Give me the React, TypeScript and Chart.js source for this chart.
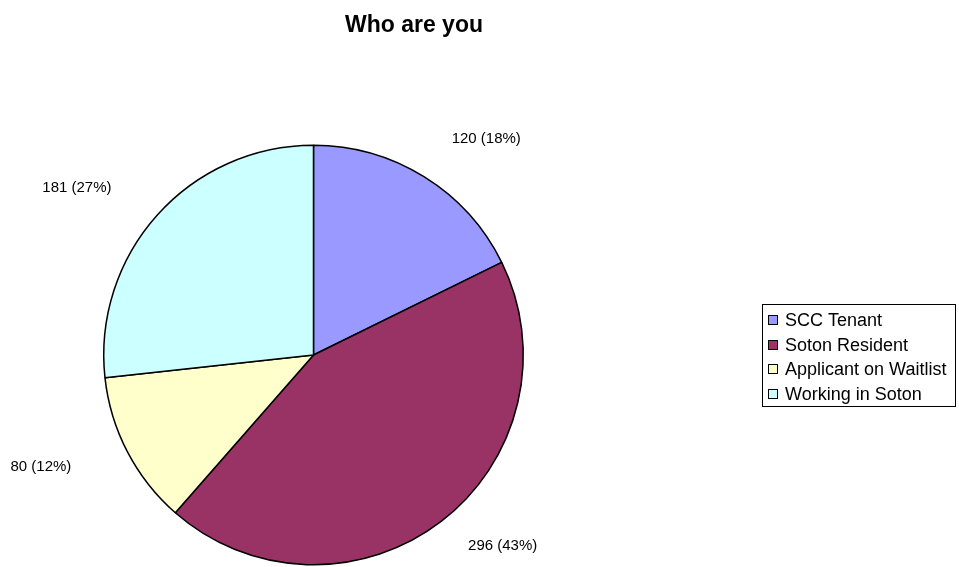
import React, { useEffect, useRef } from "react";
import { Chart, registerables } from "chart.js";

Chart.register(...registerables);

const categories = ["SCC Tenant", "Soton Resident", "Applicant on Waitlist", "Working in Soton"];
const counts = [120, 296, 80, 181];
const percents = [18, 43, 12, 27];
const sliceColors = ["#9999FF", "#993366", "#FFFFCC", "#CCFFFF"];
const titleText = "Who are you";

// label placement relative to each slice: radial factor and angular shift (deg)
const labelRadial = [1.32, 1.28, 1.405, 1.38];
const labelShiftDeg = [6.7, -7.3, 5.2, -6.7];

const FONT = '"Liberation Sans", Arial, sans-serif';

const overlayPlugin = {
  id: "overlay",
  afterDraw(chart: any) {
    const ctx = chart.ctx;
    const meta = chart.getDatasetMeta(0);
    ctx.save();
    // title
    ctx.font = `bold 23px ${FONT}`;
    ctx.fillStyle = "#000";
    ctx.textAlign = "right";
    ctx.textBaseline = "alphabetic";
    ctx.fillText(titleText, 483, 32);

    // data labels
    ctx.font = `15px ${FONT}`;
    ctx.textAlign = "center";
    ctx.textBaseline = "middle";
    meta.data.forEach((arc: any, i: number) => {
      const p = arc.getProps(["x", "y", "startAngle", "endAngle", "outerRadius"], true);
      const mid = (p.startAngle + p.endAngle) / 2 + (labelShiftDeg[i] * Math.PI) / 180;
      const r = p.outerRadius * labelRadial[i];
      const lx = p.x + Math.cos(mid) * r;
      const ly = p.y + Math.sin(mid) * r;
      ctx.fillText(`${counts[i]} (${percents[i]}%)`, lx, ly);
    });

    // legend
    const lx0 = 762.5, ly0 = 304.5, lw = 193, lh = 102;
    ctx.strokeStyle = "#000";
    ctx.lineWidth = 1;
    ctx.fillStyle = "#fff";
    ctx.fillRect(lx0, ly0, lw, lh);
    ctx.strokeRect(lx0, ly0, lw, lh);
    ctx.font = `18px ${FONT}`;
    ctx.textAlign = "left";
    categories.forEach((c, i) => {
      const cy = 320 + i * 24.7;
      ctx.fillStyle = sliceColors[i];
      ctx.fillRect(768.5, Math.round(cy) - 4.5, 9, 9);
      ctx.strokeStyle = "#000";
      ctx.strokeRect(768.5, Math.round(cy) - 4.5, 9, 9);
      ctx.fillStyle = "#000";
      ctx.fillText(c, 785, cy + 1);
    });
    ctx.restore();
  },
};

export default function App() {
  const ref = useRef<HTMLCanvasElement | null>(null);
  useEffect(() => {
    document.body.style.margin = "0";
    const canvas = ref.current;
    if (!canvas) return;
    const chart = new Chart(canvas, {
      type: "pie",
      data: {
        labels: categories,
        datasets: [
          {
            data: counts,
            backgroundColor: sliceColors,
            borderColor: "#000",
            borderWidth: 1.5,
          },
        ],
      },
      options: {
        responsive: false,
        animation: false,
        layout: { padding: { left: 103, top: 144, right: 435, bottom: 1 } },
        plugins: {
          legend: { display: false },
          title: { display: false },
          tooltip: { enabled: false },
        },
      },
      plugins: [overlayPlugin],
    });
    return () => chart.destroy();
  }, []);
  return (
    <div style={{ width: 959, height: 567, background: "#fff" }}>
      <canvas ref={ref} width={959} height={567} />
    </div>
  );
}
